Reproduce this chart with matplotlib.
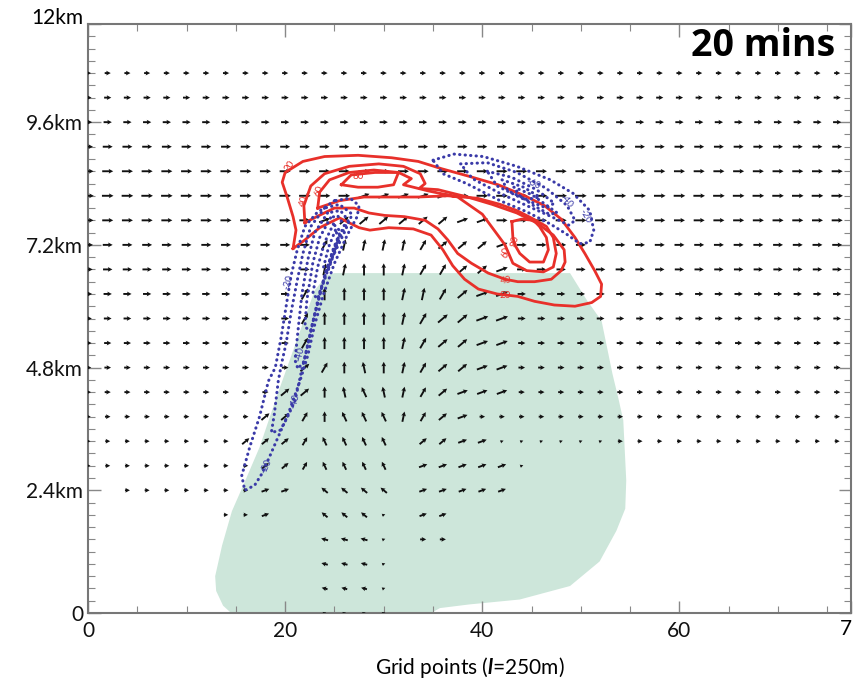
import numpy as np
import matplotlib.pyplot as plt
from matplotlib.ticker import MultipleLocator, FixedLocator

plt.rcParams['font.family'] = ['Lato', 'DejaVu Sans']
plt.rcParams['mathtext.fontset'] = 'custom'
plt.rcParams['mathtext.bf'] = 'Lato:bold:italic'

# ---- wind field: columns every 2 grid points, rows every 2 model levels ----
x_cols = list(range(0, 78, 2))
row_levels = [44, 42, 40, 38, 36, 34, 32, 30, 28, 26, 24, 22, 20, 18, 16, 14, 12, 10, 8, 6, 4, 2, 0]
# direction codes (one char per column, ' ' = no arrow)
rows = [
    '>' * 39,
    '>' * 39,
    '>' * 39,
    '>' * 39,
    '>' * 39,
    '>' * 14 + 'aaaaa' + '>' * 20,
    '>' * 12 + 'a' + 'bbbbbb' + 'aa' + '>' * 18,
    '>' * 12 + 'cdddd' + 'cbbba' + '>' * 17,
    '>' * 12 + 'dd^^d' + 'ccbba' + '>' * 17,
    '>' * 11 + 'c^^^^' + 'ddcbaa' + '>' * 17,
    '>' * 11 + 'c^^^^' + 'dcbbaa' + '>' * 17,
    '>' * 11 + 'c^^^^' + 'dcbbaa' + '>' * 17,
    '>' * 11 + 'bc^g^' + 'dcbbaa' + '>' * 17,
    '>' * 10 + 'bb^ghg' + 'dcbaaa' + '>' * 17,
    '>' * 9 + 'bbc^hhh' + 'dcba' + '>' * 19,
    '>' * 8 + 'bbbchhhh' + ' ' + 'bbaa' + '......' + '>' * 12,
    '>' * 9 + 'bbchhhh' + ' ' + 'aaaaa' + '.' + ' ' * 16,
    '  ' + '>' * 7 + 'aa' + ' ' + 'kkkk' + ' ' + 'aaaaa' + ' ' * 17,
    ' ' * 7 + '>>a' + '  ' + 'kkk.' + ' ' + 'aa' + ' ' * 20,
    ' ' * 12 + '<<<.' + ' ' + '>>' + ' ' * 20,
    ' ' * 12 + '<<<.' + ' ' * 23,
    ' ' * 12 + '<<<.' + ' ' * 23,
    ' ' * 12 + '....' + ' ' * 23,
]
code_angle = {'>': 0, 'a': 20, 'b': 40, 'c': 60, 'd': 78, '^': 90, 'g': 102,
              'h': 115, 'k': 140, '<': 165, '.': 20}
# arrow sizes per row: horizontal flow and cloud flow
row_speed = [0.55, 0.65, 0.75, 0.9, 1.0, 1.05, 1.0, 0.9, 0.85, 0.75, 0.7, 0.65,
             0.6, 0.55, 0.5, 0.45, 0.45, 0.45, 0.4, 0.55, 0.55, 0.55, 0.35]
cloud_speed = [1.0, 1.0, 1.0, 1.0, 1.0, 1.05, 1.05, 1.05, 1.1, 1.15, 1.15, 1.1,
               1.05, 1.0, 0.95, 0.85, 0.8, 0.75, 0.7, 0.65, 0.6, 0.55, 0.35]

# ---- cloud outline (grid points, model levels) ----
cloud_x = [25.0, 48.9, 50.6, 52.1, 53.2, 53.8, 54.3, 54.6, 54.5, 53.6, 51.9, 48.9, 43.8,
           38.7, 35.7, 33.7, 15.2, 13.7, 13.0, 12.9, 13.6, 14.6, 15.8, 17.4, 19.3, 21.3,
           23.0, 24.2]
cloud_y = [27.7, 27.7, 25.5, 23.8, 19.5, 17.5, 15.7, 10.8, 8.5, 6.7, 4.2, 2.2, 1.1,
           0.7, 0.4, -0.5, -0.5, 0.6, 1.8, 3.0, 5.5, 8.3, 10.5, 13.5, 18.0, 22.5,
           26.3, 27.5]

# ---- positive contours (red) ----
red_20_x = [20.8, 21.1, 20.8, 20.2, 19.7, 20.0, 21.8, 24.0, 27.4, 30.8, 33.5, 35.9, 38.6,
            41.6, 44.3, 46.3, 48.0, 49.4, 50.4, 51.4, 52.1, 52.0, 51.1, 49.4, 47.3, 45.3,
            43.6, 41.5, 39.6, 38.2, 37.0, 36.0, 34.8, 33.0, 30.5, 28.6, 27.5, 25.5,
            23.5, 22.0, 20.8]
red_20_y = [29.7, 31.2, 32.3, 33.9, 35.1, 35.9, 36.8, 37.2, 37.3, 37.1, 36.8, 36.2, 35.6,
            34.9, 34.0, 33.2, 32.1, 30.6, 29.3, 27.9, 26.8, 25.8, 25.3, 25.0, 25.1, 25.4,
            25.8, 26.0, 26.4, 27.2, 28.3, 29.6, 30.8, 31.3, 31.4, 31.2, 31.4, 32.2,
            31.4, 30.4, 29.7]
red_40_x = [22.0, 21.9, 22.6, 24.0, 26.5, 29.5, 32.0, 33.7, 34.2, 33.6, 35.5, 38.5, 41.0,
            43.5, 45.5, 47.2, 48.3, 48.4, 48.0, 47.0, 45.3, 43.6, 42.3, 40.6, 38.9, 37.5,
            36.5, 35.5, 34.2, 32.1, 30.1, 28.5, 27.0, 25.0, 23.2, 22.0]
red_40_y = [31.8, 33.2, 34.8, 35.8, 36.4, 36.6, 36.4, 35.8, 35.0, 34.6, 34.5, 33.9, 33.3,
            32.6, 31.8, 30.8, 29.6, 28.6, 27.9, 27.2, 27.0, 27.0, 27.2, 27.7, 28.5, 29.3,
            30.4, 31.3, 32.0, 32.3, 32.4, 32.6, 33.0, 33.0, 32.3, 31.8]
red_60_x = [23.3, 23.5, 24.5, 26.5, 29.0, 31.5, 32.8, 32.0, 34.5, 37.5, 40.0, 42.3, 43.1,
            44.5, 46.2, 47.2, 47.5, 47.2, 46.5, 45.2, 43.5, 41.8, 39.5, 36.5, 33.5, 30.5,
            28.0, 25.5, 23.3]
red_60_y = [33.0, 34.3, 35.3, 35.9, 36.1, 35.9, 35.4, 34.9, 34.4, 33.9, 32.5, 30.0, 28.5,
            27.9, 27.8, 28.2, 29.3, 30.6, 31.5, 32.1, 32.8, 33.3, 33.8, 34.0, 33.9, 33.9,
            33.9, 33.6, 33.0]
red_80a_x = [25.7, 26.7, 29.1, 31.5, 31.0, 29.4, 27.4, 25.7]
red_80a_y = [34.9, 35.7, 35.9, 35.9, 34.9, 34.7, 34.7, 34.9]
red_80b_x = [43.0, 43.1, 43.3, 43.8, 44.8, 46.2, 46.7, 46.5, 45.8, 45.2, 44.0, 43.0]
red_80b_y = [31.9, 30.6, 30.0, 29.3, 28.6, 28.6, 29.6, 30.6, 31.5, 32.0, 32.1, 31.9]

# ---- negative contours (blue, dotted) ----
blue_1_x = [25.0, 23.2, 22.0, 21.2, 20.6, 20.1, 19.6, 19.0, 18.3, 17.4, 16.4, 15.6, 15.9,
            16.9, 17.6, 18.4, 19.1, 20.3, 21.5, 22.3, 23.0, 23.9, 25.0, 26.3, 27.3, 27.5,
            26.6, 25.0]
blue_1_y = [33.6, 32.6, 31.5, 29.5, 27.5, 25.0, 22.5, 20.0, 18.9, 16.0, 13.5, 11.2, 10.0,
            10.4, 11.3, 12.7, 14.0, 16.2, 18.9, 21.0, 23.5, 26.0, 28.5, 30.8, 32.3, 33.2,
            33.8, 33.6]
blue_2_x = [24.0, 22.6, 21.8, 21.2, 20.6, 20.1, 19.6, 19.3, 18.9, 18.6, 19.5, 20.2, 21.0,
            21.6, 22.2, 22.9, 23.7, 24.8, 26.0, 26.8, 25.5, 24.0]
blue_2_y = [33.0, 31.5, 29.3, 27.0, 24.5, 22.0, 20.2, 18.9, 16.2, 14.7, 14.9, 15.9, 17.3,
            19.5, 21.5, 24.0, 26.5, 29.0, 31.0, 32.5, 33.3, 33.0]
blue_3_x = [24.3, 23.0, 22.3, 21.7, 21.3, 21.0, 21.3, 21.9, 22.6, 23.4, 24.4, 25.5, 26.4,
            25.6, 24.3]
blue_3_y = [32.6, 31.0, 28.8, 26.0, 23.0, 20.6, 19.9, 20.5, 23.0, 25.8, 28.3, 30.5, 32.0,
            32.8, 32.6]
blue_4_x = [24.6, 23.5, 22.8, 22.2, 22.0, 22.6, 23.3, 24.1, 25.1, 26.0, 25.3, 24.6]
blue_4_y = [32.2, 30.6, 28.5, 25.5, 23.3, 23.0, 25.2, 27.8, 30.0, 31.6, 32.4, 32.2]
blue_5_x = [24.9, 24.0, 23.3, 22.8, 23.3, 24.0, 24.8, 25.6, 24.9]
blue_5_y = [31.7, 30.2, 28.2, 26.0, 25.6, 27.4, 29.5, 31.1, 31.7]
blue_6_x = [25.1, 24.4, 23.9, 24.4, 25.0, 25.4, 25.1]
blue_6_y = [31.2, 29.8, 28.2, 28.0, 29.4, 30.6, 31.2]
blue_7_x = [35.0, 37.1, 40.1, 43.5, 46.9, 49.2, 50.9, 51.3, 50.9, 49.9, 48.5, 46.9, 44.5,
            41.8, 38.4, 36.0, 35.0]
blue_7_y = [36.9, 37.4, 37.2, 36.4, 35.3, 34.2, 32.8, 31.2, 30.2, 30.1, 30.9, 31.7, 32.7,
            33.6, 35.0, 35.8, 36.9]
blue_8_x = [37.8, 40.5, 43.5, 46.5, 48.6, 49.4, 48.8, 47.0, 44.5, 41.8, 39.0, 37.8]
blue_8_y = [36.6, 36.7, 35.9, 34.6, 33.2, 32.0, 31.6, 32.3, 33.2, 34.2, 35.4, 36.6]
blue_9_x = [40.5, 43.0, 45.5, 47.3, 46.5, 44.0, 41.5, 40.5]
blue_9_y = [36.0, 35.5, 34.5, 33.4, 33.0, 33.8, 34.8, 36.0]
blue_10_x = [42.0, 44.2, 45.8, 44.5, 42.6, 42.0]
blue_10_y = [35.3, 34.7, 33.9, 33.7, 34.4, 35.3]
blue_11_x = [43.2, 45.0, 46.4, 47.6, 46.8, 45.2, 43.8, 43.2]
blue_11_y = [34.7, 34.1, 33.3, 32.6, 32.5, 33.2, 34.0, 34.7]

red_labels = [('20', 20.5, 36.4, 55), ('40', 21.9, 33.6, 75), ('60', 23.4, 34.4, 70),
              ('80', 27.4, 35.6, 0), ('80', 43.3, 30.3, 80), ('60', 42.4, 29.4, 80),
              ('40', 42.4, 27.1, 10), ('20', 42.3, 25.9, 0)]
blue_labels = [('-20', 20.3, 27.0, 72), ('-40', 21.5, 21.1, 75), ('-40', 21.0, 17.3, 75),
               ('-20', 18.1, 12.0, 65), ('-20', 50.4, 32.3, -60), ('-40', 48.5, 33.6, -50),
               ('-60', 45.2, 35.0, -25)]

fig = plt.figure(figsize=(8.54, 6.89), dpi=100)
ax = fig.add_axes([88 / 854, 76 / 689, 763 / 854, 589 / 689])

ax.fill(cloud_x, cloud_y, color='#cde6da', lw=0, zorder=1)

# build arrows from the code rows
qx, qy, qu, qv = [], [], [], []
for lev, code, sp, csp in zip(row_levels, rows, row_speed, cloud_speed):
    for xc, ch in zip(x_cols, code):
        if ch == ' ':
            continue
        ang = np.deg2rad(code_angle[ch])
        mag = sp if ch == '>' else (0.3 if ch == '.' else csp)
        qx.append(xc)
        qy.append(lev)
        qu.append(mag * np.cos(ang))
        qv.append(mag * np.sin(ang))
ax.quiver(qx, qy, qu, qv, angles='uv', scale_units='dots', scale=1 / 11.0,
          pivot='middle', units='dots', width=1.9, headwidth=2.5, headlength=2.4,
          headaxislength=2.1, color='#111111', zorder=3)

red = '#e8302a'
for cx, cy in [(red_20_x, red_20_y), (red_40_x, red_40_y), (red_60_x, red_60_y),
               (red_80a_x, red_80a_y), (red_80b_x, red_80b_y)]:
    ax.plot(cx, cy, color=red, lw=2.0, zorder=4)
blue = '#3a3aa8'
for cx, cy in [(blue_1_x, blue_1_y), (blue_2_x, blue_2_y), (blue_3_x, blue_3_y),
               (blue_4_x, blue_4_y), (blue_5_x, blue_5_y), (blue_6_x, blue_6_y),
               (blue_7_x, blue_7_y), (blue_8_x, blue_8_y), (blue_9_x, blue_9_y),
               (blue_10_x, blue_10_y), (blue_11_x, blue_11_y)]:
    ax.plot(cx, cy, color=blue, lw=2.2, ls=(0, (0.1, 1.7)), dash_capstyle='round',
            zorder=4)
for t, x, y, r in red_labels:
    ax.text(x, y, t, color=red, fontsize=7, rotation=r, ha='center', va='center', zorder=5)
for t, x, y, r in blue_labels:
    ax.text(x, y, t, color=blue, fontsize=7, rotation=r, ha='center', va='center', zorder=5)

ax.set_xlim(0, 77.4)
ax.set_ylim(0, 48)
ax.xaxis.set_major_locator(FixedLocator([0, 20, 40, 60, 77.4]))
ax.xaxis.set_minor_locator(MultipleLocator(5))
ax.yaxis.set_major_locator(FixedLocator([0, 10, 20, 30, 40, 48]))
ax.set_yticklabels(['0', '2.4km', '4.8km', '7.2km', '9.6km', ''])
ax.yaxis.set_minor_locator(MultipleLocator(1))
ax.tick_params(which='both', direction='in', colors='#888888', labelcolor='#111111',
               labelsize=15, top=True, right=True)
ax.tick_params(which='major', length=9, width=1)
ax.tick_params(which='minor', length=5, width=0.8)
ax.tick_params(axis='x', pad=6)
# top label sits a little above the frame in the original
ax.text(-0.006, 48.5, '12km', transform=ax.get_yaxis_transform(), fontsize=15,
        ha='right', va='center')
# the last label sits on the picture's right edge, only its first digit shows
ax.set_xticklabels(['0', '20', '40', '60', ''])
ax.text(76.9, -0.5, '7', fontsize=15, ha='center', va='top')
for s in ax.spines.values():
    s.set_color('#777777')
    s.set_linewidth(1.5)

ax.set_xlabel(r'Grid points ($\mathbf{l}$=250m)', fontsize=15, labelpad=10)
ax.text(0.979, 0.963, '20 mins', transform=ax.transAxes, ha='right', va='center',
        fontsize=27, fontweight='bold', family=['Open Sans', 'DejaVu Sans'], zorder=6)

fig.savefig('out.png', dpi=100)
